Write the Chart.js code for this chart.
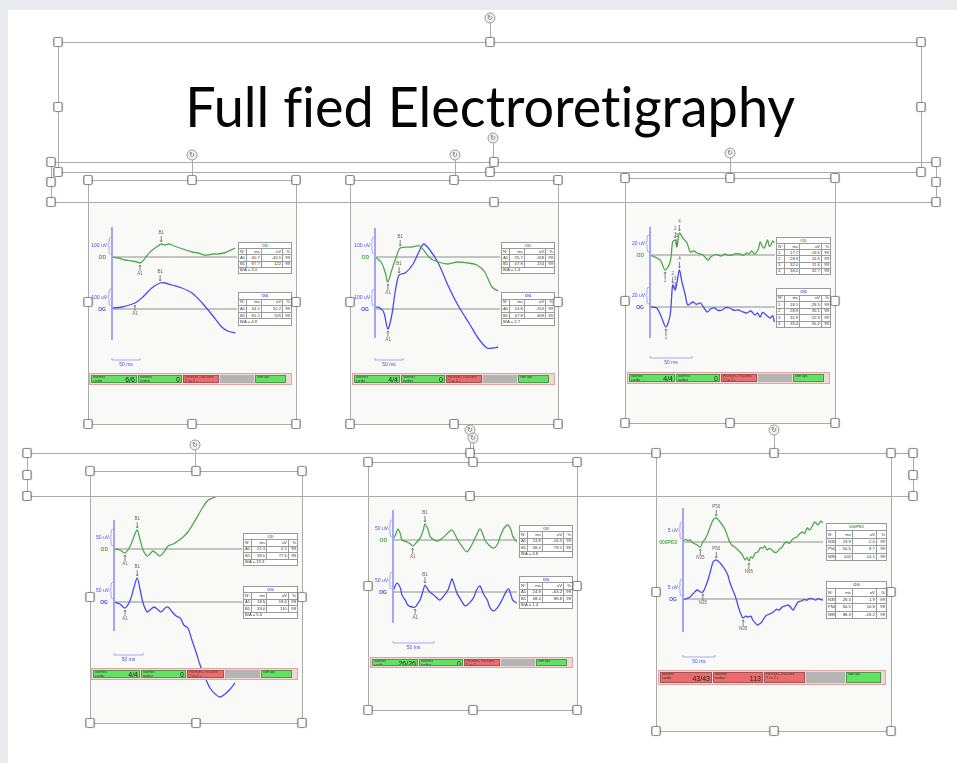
<!DOCTYPE html>
<html><head><meta charset="utf-8">
<script src="https://cdn.jsdelivr.net/npm/chart.js@4.4.1/dist/chart.umd.min.js"></script>
<style>
html,body{margin:0;padding:0;width:957px;height:763px;overflow:hidden;background:#e9ebee;font-family:"Liberation Sans",Arial,sans-serif;}
#slide{position:absolute;left:8px;top:10px;width:949px;height:753px;background:#fff;}
.ln{position:absolute;background:#ababab;z-index:4}
.hd{position:absolute;width:7px;height:8px;background:#fff;border:1px solid #8a8a8a;border-radius:2px;box-shadow:0 0 1px rgba(0,0,0,.35);transform:translate(-50%,-50%);z-index:6}
.rot{position:absolute;width:9px;height:9px;border-radius:50%;background:#f0f0f0;border:1px solid #9a9a9a;transform:translate(-50%,-50%);z-index:6;font-size:7px;line-height:9px;text-align:center;color:#666;font-family:"DejaVu Sans",sans-serif}
.bg{position:absolute;background:#f9faf7;z-index:1}
canvas{position:absolute;z-index:2}
.tb{position:absolute;border-collapse:collapse;background:#fff;font-size:4.2px;color:#333;table-layout:fixed;z-index:3}
.tb td{border:1px solid #9a9a9a;padding:0 1px;text-align:right;white-space:nowrap;overflow:hidden;line-height:4px}
.tb td.l{text-align:left}
.tb td.h{text-align:center;font-weight:bold}
.sb{position:absolute;z-index:3;background:#f1d6d6;border:1px solid #e2a3a3;box-sizing:border-box}
.sg{position:absolute;top:1px;bottom:1px;box-sizing:border-box;border:1px solid rgba(60,60,60,.45);overflow:hidden}
.sg .t{position:absolute;left:1px;top:0px;font-size:3.4px;line-height:3.8px;color:#333;white-space:pre}
.sg .v{position:absolute;right:1px;top:50%;transform:translateY(-50%);font-size:7px;color:#222}
#title{position:absolute;left:0;width:980px;text-align:center;z-index:5;font-family:Lato,"Open Sans",sans-serif;font-size:56px;line-height:56px;color:#050505;white-space:nowrap;font-variant-ligatures:none;font-feature-settings:"liga" 0}
#tt{display:inline-block;transform-origin:50% 50%}
</style></head>
<body>
<div id="slide"></div>
<div id="title"><span id="tt">Full fied Electroretigraphy</span></div>
<script>
// ---------- DATA (ms, µV) ----------
const p1OdT=[0,11,23,36,45,50,55,62,70,77,82,88,95,102,111,121,132,143,154,164,171,180,189,200,209,220];
const p1OdV=[0,-7,-21,-28,-35,-42,-28,7,42,63,77,91,84,91,77,63,49,35,28,14,14,21,21,28,42,63];
const p1OgT=[0,18,41,55,71,86,95,107,125,143,161,179,196,207,220];
const p1OgV=[7,14,42,84,147,182,182,168,147,112,42,-42,-126,-154,-168];

const p2OdT=[0,11,18,23,30,38,45,66,80,98,113,130,148,166,182,196,209,220];
const p2OdV=[0,-35,-105,-175,-91,0,63,70,77,-7,-35,-49,-35,-42,-56,-105,-210,-238];
const p2OgT=[0,9,16,23,30,36,43,54,68,80,87,98,113,130,148,170,184,200,211,220];
const p2OgV=[14,7,-28,-140,-42,119,238,252,315,413,455,413,322,168,28,-112,-203,-273,-273,-266];

const p3OdT=[0,12,18,24,27,30,32,35,39,44,48,52,56,60,63,66,69,72,74,78,81,85,89,93,98,102,107,111,115,118,121,124,126,129,131,134,136,138,140,142,144,146,148];
const p3OdV=[0,-7.5,-22.5,-10.5,19.5,22.5,12,33,25.5,18,4.5,6,3,1.5,0,-4,-7.5,-3,-1.5,1,0,-1.5,1.5,-0.5,0,2,1.5,-0.5,3,1.5,6,2,3,9,19.5,12,10.5,17,22.5,13,15,21,18];
const p3OgT=[0,8,14,19,24,27,30,32,35,38,42,45,51,55,60,64,68,72,77,81,86,90,95,100,105,110,115,120,125,128,131,134,137,140,143,146,148];
const p3OgV=[0,-1.5,-16.5,-30,-12,33,25.5,36,55.5,37.5,18,3,7.5,4,6,-1,-7.5,-3,-1.5,-5,-4.5,-1,-1.5,-5,-4.5,-7,-9,-6,-12,-9,-15,-8,-10.5,-14,-16.5,-13,-22.5];

const p4OdT=[0,10,19,28,34,40,45,50,57,62,67,74,79,86,93,102,110,119,127,136,145,153,162,170,177,190];
const p4OdV=[0,-3.4,-13.6,10.2,40.8,64.6,30.6,-3.4,-23.8,-17,-6.8,-17,-23.8,-10.2,10.2,17,27.2,40.8,57.8,85,115.6,142.8,166.6,173.4,180.2,200];
const p4OgT=[0,10,19,28,34,40,45,50,57,62,69,76,81,88,93,100,107,114,120,127,134,141,148,157,165,174,182,191,200,208];
const p4OgV=[0,-6.8,-20.4,6.8,47.6,81.6,40.8,-3.4,-34,-27.2,-17,-27.2,-34,-20.4,-17,-34,-47.6,-54.4,-78.2,-88.4,-129.2,-170,-214.2,-258.4,-292.4,-312.8,-323,-312.8,-295.8,-275.4];

const p5OdT=[0,4,6,9,11,17,21,24,28,33,37,39,43,45,50,54,59,63,68,72,76,79,84,90,94,98,102,106,110,112,117,122,127,131,135,140,144,146,151];
const p5OdV=[0,25,40,22,0,-7,-14,-22,-11,7,36,58,36,14,0,-4,4,14,29,36,18,0,-22,-43,-29,-7,18,40,18,0,-18,-29,-18,14,40,54,36,14,-7];
const p5OgT=[0,2,5,9,11,15,18,23,27,30,33,37,39,43,45,51,57,62,67,70,72,76,78,83,88,93,98,102,106,111,115,118,122,127,133,137,141,144,146,151];
const p5OgV=[0,18,32,14,-11,-29,-47,-54,-54,-43,-29,7,25,7,0,-14,-29,-14,7,32,47,14,-4,-29,-50,-40,-22,7,22,-11,-29,-54,-68,-58,-29,-4,11,-11,-29,-40];

const p6OdT=[0,5,8,11,14,18,22,27,31,35,39,43,47,52,58,62,66,70,73,77,81,85,89,93,97,100,103,106,109,113,117,121,125,128,131,135,139,143,147,151,155,158,162,166,170,174,178,182,186,190,194,198,202,206,211,215,219];
const p6OdV=[0.35,0.9,0.3,0.8,0,-0.6,-1.05,-1.75,0,1.2,3.15,5.6,7.7,8.4,7,5.8,4.2,1.8,0,-1.2,-1.75,-2.6,-3.5,-4.6,-6.3,-5.4,-6.65,-5.2,-5.6,-3.8,-3.5,-2,-2.1,-1.4,-2.8,-2.2,-2.8,-3.6,-3.5,-2.4,-1.75,-0.6,0,-0.5,0.7,1.4,1.75,2.8,3.5,3,4.9,4.2,5.6,7,5.95,7.3,6.65];
const p6OgT=[0,6,11,16,22,27,31,35,39,43,47,52,58,62,66,70,73,77,81,84,87,91,94,98,102,106,109,113,116,119,123,127,131,136,141,146,150,155,160,164,168,172,176,180,185,189,194,198,203,207,211,215,219];
const p6OgV=[-0.35,0.2,0.7,1.9,3.15,2.45,2.45,4.2,6.65,9.8,12.95,13.65,12.6,11.5,10.15,8.4,5.95,3.5,1.4,-0.7,-3.15,-5.6,-6.65,-6,-6.3,-6,-7.35,-8.4,-9.1,-8.8,-8.05,-6.6,-5.6,-5.2,-4.55,-3.6,-3.9,-2.8,-2.4,-2.1,-2.8,-3.85,-2.4,-1.05,-0.7,-0.2,-0.35,0.2,0,-0.4,0.1,-0.2,-0.35];

// markers: [data index, label, side]
const p1OdMarks=[[5,'A1','b'],[11,'B1','a']], p1OgMarks=[[2,'A1','b'],[5,'B1','a']];
const p2OdMarks=[[3,'A1','b'],[6,'B1','a']], p2OgMarks=[[3,'A1','b'],[6,'B1','a']];
const p3OdMarks=[[2,'1','b'],[5,'2','a'],[6,'3','a'],[7,'4','a']], p3OgMarks=[[3,'1','b'],[5,'2','a'],[6,'3','a'],[8,'4','a']];
const p4OdMarks=[[2,'A1','b'],[5,'B1','a']], p4OgMarks=[[2,'A1','b'],[5,'B1','a']];
const p5OdMarks=[[7,'A1','b'],[11,'B1','a']], p5OgMarks=[[8,'A1','b'],[12,'B1','a']];
const p6OdMarks=[[7,'N35','b'],[13,'P50','a'],[26,'N95','b']], p6OgMarks=[[6,'N35','b'],[11,'P50','a'],[22,'N95','b']];

// result tables
const tableHead=['N°','ms','uV','%'];
const p1OdRows=[['A1','40.7','-40.5','99'],['B1','87.7','122','99']], p1OgRows=[['A1','44.1','32.2','99'],['B1','81.2','155','99']];
const p2OdRows=[['A1','25.7','-168','99'],['B1','47.8','234','99']], p2OgRows=[['A1','24.8','-153','99'],['B1','47.8','409','99']];
const p3OdRows=[['1','17.7','-19.5','99'],['2','28.9','24.5','99'],['3','32.0','11.6','99'],['4','36.0','32.7','99']];
const p3OgRows=[['1','18.1','-28.5','99'],['2','28.9','35.1','99'],['3','31.9','22.9','99'],['4','35.4','55.2','99']];
const p4OdRows=[['A1','21.3','-5.1','99'],['B1','39.0','77.6','99']], p4OgRows=[['A1','18.5','19.6','99'],['B1','39.0','110','99']];
const p5OdRows=[['A1','24.8','-16.5','99'],['B1','38.4','79.1','99']], p5OgRows=[['A1','24.8','-63.2','99'],['B1','38.4','88.8','99']];
const p6OdRows=[['N35','23.9','-2.0','99'],['P50','50.5','8.7','99'],['N95','103','-14.1','99']];
const p6OgRows=[['N35','29.3','1.9','99'],['P50','50.5','10.8','99'],['N95','88.3','-19.2','99']];
const ratiosOD=['B/A = 3.0','B/A = 1.4',null,'B/A = 15.3','B/A = 4.8',null];
const ratiosOG=['B/A = 4.8','B/A = 2.7',null,'B/A = 5.5','B/A = 1.4',null];
const amplitudeLabels=['100 uV','100 uV','20 uV','50 uV','50 uV','5 uV'];
const odNames=['OD','OD','OD','OD','OD','000PE3'];
const ogNames=['OG','OG','OG','OG','OG','OG'];
const statusCounts=[['6/6','0'],['4/4','0'],['4/4','0'],['4/4','0'],['26/26','0'],['43/43','113']];
const statusTexts=['Normes\ncardio','Normes\ntardive','PB ELECTRODES\n? >= 2 +','','stim opt.'];
const statusColors=[['g','g','r','x','g'],['g','g','r','x','g'],['g','g','r','x','g'],['g','g','r','x','g'],['g','g','r','x','g'],['r','r','r','x','g']];
const titleText='Full fied Electroretigraphy';

// ---------- LAYOUT ----------
const GREEN='#4ea94e', BLUE='#4a4af2', AXIS='#a5a5f6', BASEC='#8e8e8e', MARK='#666';
const SEGC={g:'#62e262',r:'#ef6a6a',x:'#b4b4b4'};
const SEGW=[0.236,0.226,0.184,0.176,0.158];
const layout=[
 {box:[88,180,296,424],bgTop:203,x0:112,x1:237,msPx:1.786,uvPx:7,bOD:257,bOG:309,axis:[227,340],barY:360,st:[89,373,292,385],tOD:[238,242,54,31],tOG:[238,292,54,33]},
 {box:[350,180,558,424],bgTop:203,x0:375,x1:500,msPx:1.786,uvPx:7,bOD:257,bOG:309,axis:[228,338],barY:360,st:[352,373,555,385],tOD:[501,242,54,31],tOG:[501,292,54,33]},
 {box:[625,178,835,423],bgTop:203,x0:650,x1:775,msPx:1.19,uvPx:1.5,bOD:255,bOG:307,axis:[227,338],barY:358,st:[627,372,830,384],tOD:[776,237,55,37],tOG:[776,288,55,39]},
 {box:[90,471,302,723],bgTop:496,x0:114,x1:242,msPx:1.72,uvPx:3.4,bOD:549,bOG:602,axis:[520,631],barY:655,st:[91,668,298,680],tOD:[243,533,55,32],tOG:[243,586,55,32]},
 {box:[368,462,577,710],bgTop:496,x0:393,x1:517,msPx:1.22,uvPx:3.6,bOD:540,bOG:592,axis:[510,623],barY:643,st:[370,657,573,668],tOD:[519,525,54,32],tOG:[519,576,54,32]},
 {box:[656,453,891,731],bgTop:496,x0:683,x1:823,msPx:1.5625,uvPx:0.35,bOD:542,bOG:599,axis:[508,632],barY:657,st:[658,670,886,685],tOD:[826,523,61,37],tOG:[826,581,61,37]}
];
const series=[
 [p1OdT,p1OdV,p1OgT,p1OgV,p1OdMarks,p1OgMarks,p1OdRows,p1OgRows],
 [p2OdT,p2OdV,p2OgT,p2OgV,p2OdMarks,p2OgMarks,p2OdRows,p2OgRows],
 [p3OdT,p3OdV,p3OgT,p3OgV,p3OdMarks,p3OgMarks,p3OdRows,p3OgRows],
 [p4OdT,p4OdV,p4OgT,p4OgV,p4OdMarks,p4OgMarks,p4OdRows,p4OgRows],
 [p5OdT,p5OdV,p5OgT,p5OgV,p5OdMarks,p5OgMarks,p5OdRows,p5OgRows],
 [p6OdT,p6OdV,p6OgT,p6OgV,p6OdMarks,p6OgMarks,p6OdRows,p6OgRows]
];
const boxes=[
 {r:[58,42,921,172],rot:[490,18]},
 {r:[51,162,936,202],rot:[493,138]},
 {r:[88,180,296,424],rot:[192,155]},
 {r:[350,180,558,424],rot:[455,155]},
 {r:[625,178,835,423],rot:[730,153]},
 {r:[27,453,913,496],rot:[470,430]},
 {r:[90,471,302,723],rot:[195,445]},
 {r:[368,462,577,710],rot:[473,438]},
 {r:[656,453,891,731],rot:[774,430]}
];

const B=document.body;
function el(tag,cls,css,html){const e=document.createElement(tag);if(cls)e.className=cls;if(css)Object.assign(e.style,css);if(html!=null)e.innerHTML=html;B.appendChild(e);return e;}
function hline(x1,x2,y){el('div','ln',{left:x1+'px',top:y+'px',width:(x2-x1)+'px',height:'1px'});}
function vline(x,y1,y2){el('div','ln',{left:x+'px',top:y1+'px',width:'1px',height:(y2-y1)+'px'});}
function handle(x,y){el('div','hd',{left:x+'px',top:y+'px'});}

// title
const tt=document.getElementById('tt');
tt.textContent=titleText;
const titleDiv=document.getElementById('title');
titleDiv.style.top='78px';
const tw=tt.getBoundingClientRect().width;
tt.style.transform='scaleX('+(610/tw)+')';

// panel backgrounds
layout.forEach(L=>{el('div','bg',{left:L.box[0]+'px',top:L.bgTop+'px',width:(L.box[2]-L.box[0])+'px',height:(L.box[3]-L.bgTop)+'px'});});

// selection boxes and handles
boxes.forEach(bx=>{
  const [l,t,r,b]=bx.r, mx=Math.round((l+r)/2), my=Math.round((t+b)/2);
  hline(l,r,t);hline(l,r,b);vline(l,t,b);vline(r,t,b);
  [[l,t],[mx,t],[r,t],[l,my],[r,my],[l,b],[mx,b],[r,b]].forEach(p=>handle(p[0],p[1]));
  const [rx,ry]=bx.rot;
  vline(rx,ry+5,t);
  el('div','rot',{left:rx+'px',top:ry+'px'},'&#8635;');
});

// tables
function makeTable(pos,name,color,rows,ratio){
  const n=rows.length+2+(ratio?1:0);
  let h='<colgroup><col style="width:15%"><col style="width:28%"><col style="width:40%"><col style="width:17%"></colgroup>';
  const rh=(pos[3]/n).toFixed(2)+'px';
  h+='<tr style="height:'+rh+'"><td colspan="4" class="h" style="color:'+color+'">'+name+'</td></tr>';
  h+='<tr style="height:'+rh+'">'+tableHead.map((c,i)=>'<td class="'+(i==0?'l':'')+'">'+c+'</td>').join('')+'</tr>';
  rows.forEach(r=>{h+='<tr style="height:'+rh+'">'+r.map((c,i)=>'<td class="'+(i==0?'l':'')+'">'+c+'</td>').join('')+'</tr>';});
  if(ratio)h+='<tr style="height:'+rh+'"><td colspan="4" class="l">'+ratio+'</td></tr>';
  el('table','tb',{left:pos[0]+'px',top:pos[1]+'px',width:pos[2]+'px',height:pos[3]+'px'},h);
}

// status bars
function makeStatus(pos,counts,colors){
  const w=pos[2]-pos[0], hgt=pos[3]-pos[1];
  const sb=el('div','sb',{left:pos[0]+'px',top:pos[1]+'px',width:w+'px',height:hgt+'px'});
  let x=1;
  SEGW.forEach((f,i)=>{
    const sw=Math.round(f*(w-2));
    const s=document.createElement('div');s.className='sg';
    Object.assign(s.style,{left:x+'px',width:(sw-1)+'px',background:SEGC[colors[i]]});
    if(colors[i]==='x')s.style.border='none';
    let inner='';
    if(statusTexts[i])inner+='<div class="t">'+statusTexts[i]+'</div>';
    if(i<2)inner+='<div class="v">'+counts[i]+'</div>';
    s.innerHTML=inner;sb.appendChild(s);x+=sw;
  });
}

// annotation plugin (uses chart scales)
const erg={
  id:'erg',
  afterDatasetsDraw(chart,args,o){
    const c=chart.ctx, L=o.L, ca=chart.chartArea, xs=chart.scales.x;
    const top=L.bgTop;
    c.save();
    c.strokeStyle=AXIS;c.lineWidth=2;
    c.beginPath();c.moveTo(ca.left,L.axis[0]-top);c.lineTo(ca.left,L.axis[1]-top);c.stroke();
    [['yOD',o.odName,GREEN],['yOG',o.ogName,BLUE]].forEach(([ax,name,col])=>{
      const y0=chart.scales[ax].getPixelForValue(0);
      const bx=ca.left-3;
      c.strokeStyle=AXIS;c.lineWidth=1;
      c.beginPath();c.moveTo(bx+2,y0-20);c.quadraticCurveTo(bx,y0-20,bx,y0-17);c.lineTo(bx,y0-12.5);c.lineTo(bx-1.5,y0-11.5);c.lineTo(bx,y0-10.5);c.lineTo(bx,y0-6);c.quadraticCurveTo(bx,y0-3,bx+2,y0-3);c.stroke();
      c.font='5px "Liberation Sans",Arial';c.textAlign='right';c.textBaseline='middle';
      c.fillStyle=BLUE;c.fillText(o.amp,bx-2,y0-11);
      c.font='bold 5px "Liberation Sans",Arial';c.fillStyle=col;c.fillText(name,bx-3,y0+0.5);
    });
    [[0,o.odMarks],[1,o.ogMarks]].forEach(([di,marks])=>{
      const meta=chart.getDatasetMeta(di);
      marks.forEach(([idx,lab,side])=>{
        const p=meta.data[idx]; if(!p)return;
        c.strokeStyle=MARK;c.fillStyle=MARK;c.lineWidth=0.8;
        c.font='4.5px "Liberation Sans",Arial';c.textAlign='center';
        if(side==='a'){
          c.beginPath();c.moveTo(p.x,p.y-8);c.lineTo(p.x,p.y-2);c.stroke();
          c.beginPath();c.moveTo(p.x-1,p.y-3.5);c.lineTo(p.x,p.y-2);c.lineTo(p.x+1,p.y-3.5);c.stroke();
          c.textBaseline='bottom';c.fillText(lab,p.x,p.y-8.5);
        }else{
          c.beginPath();c.moveTo(p.x,p.y+8);c.lineTo(p.x,p.y+2);c.stroke();
          c.beginPath();c.moveTo(p.x-1,p.y+3.5);c.lineTo(p.x,p.y+2);c.lineTo(p.x+1,p.y+3.5);c.stroke();
          c.textBaseline='top';c.fillText(lab,p.x,p.y+8.5);
        }
      });
    });
    const xa=xs.getPixelForValue(0), xb=xs.getPixelForValue(50), yb=L.barY-top;
    c.strokeStyle=AXIS;c.lineWidth=1;
    c.beginPath();c.moveTo(xa,yb-2);c.lineTo(xa,yb);c.lineTo(xb,yb);c.lineTo(xb,yb-2);c.stroke();
    c.fillStyle=BLUE;c.font='5px "Liberation Sans",Arial';c.textAlign='center';c.textBaseline='top';
    c.fillText('50 ms',(xa+xb)/2,yb+2.5);
    c.restore();
  }
};

function pts(t,v){return t.map((x,i)=>({x:x,y:v[i]}));}

layout.forEach((L,k)=>{
  const S=series[k];
  const W=L.box[2]-L.box[0], H=L.box[3]-L.bgTop;
  const cv=document.createElement('canvas');
  cv.width=W;cv.height=H;
  Object.assign(cv.style,{left:L.box[0]+'px',top:L.bgTop+'px',width:W+'px',height:H+'px'});
  B.appendChild(cv);
  const xMax=(L.x1-L.x0)*L.msPx;
  const ds=(d,ax,col,w)=>({data:d,yAxisID:ax,borderColor:col,borderWidth:w,pointRadius:0,tension:0.3,fill:false});
  new Chart(cv,{
    type:'line',
    data:{datasets:[
      ds(pts(S[0],S[1]),'yOD',GREEN,1.3),
      ds(pts(S[2],S[3]),'yOG',BLUE,1.3),
      ds([{x:0,y:0},{x:xMax,y:0}],'yOD',BASEC,1),
      ds([{x:0,y:0},{x:xMax,y:0}],'yOG',BASEC,1)
    ]},
    options:{
      responsive:false,animation:false,events:[],
      layout:{padding:{left:L.x0-L.box[0],right:L.box[2]-L.x1,top:0,bottom:0}},
      scales:{
        x:{type:'linear',display:false,min:0,max:xMax},
        yOD:{display:false,min:(L.bOD-L.box[3])*L.uvPx,max:(L.bOD-L.bgTop)*L.uvPx},
        yOG:{display:false,min:(L.bOG-L.box[3])*L.uvPx,max:(L.bOG-L.bgTop)*L.uvPx}
      },
      plugins:{legend:{display:false},tooltip:{enabled:false},
        erg:{L:L,amp:amplitudeLabels[k],odName:odNames[k],ogName:ogNames[k],odMarks:S[4],ogMarks:S[5]}}
    },
    plugins:[erg]
  });
  makeTable(L.tOD,odNames[k],GREEN,S[6],ratiosOD[k]);
  makeTable(L.tOG,ogNames[k],BLUE,S[7],ratiosOG[k]);
  makeStatus(L.st,statusCounts[k],statusColors[k]);
});
</script>
</body></html>
